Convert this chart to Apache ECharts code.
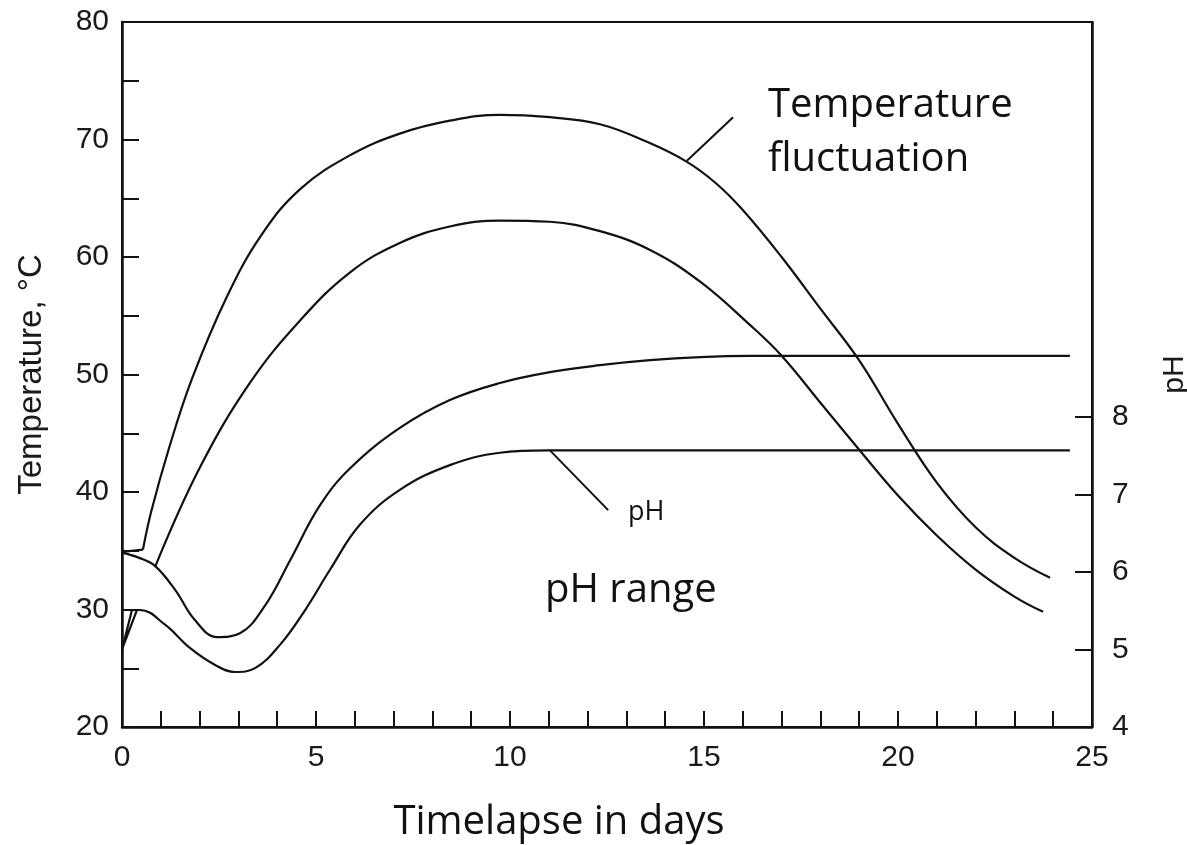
<!DOCTYPE html>
<html>
<head>
<meta charset="utf-8">
<script src="https://cdn.jsdelivr.net/npm/echarts@6/dist/echarts.min.js"></script>
<style>
  html, body { margin: 0; padding: 0; background: #fff; }
  #chart { width: 1187px; height: 845px; }
</style>
</head>
<body>
<div id="chart"></div>
<script>
// days on x, temperature (°C) on left axis, pH on right axis
var tempOuter = [
  [0.54, 35.1], [0.75, 38.3], [1.2, 43.6], [1.8, 49.6], [2.7, 56.6], [3.6, 61.9],
  [4.6, 65.8], [5.9, 68.7], [7.16, 70.5], [8.45, 71.6], [9.74, 72.1], [11.03, 71.9],
  [12.32, 71.3], [13.53, 69.8], [14.56, 68.1], [15.3, 66.3], [16.0, 64.0], [17.0, 60.0],
  [18.0, 55.6], [19.0, 51.2], [20.0, 45.8], [21.0, 40.8], [22.0, 37.0], [23.0, 34.4],
  [23.92, 32.7]
]
var tempInner = [
  [0.85, 33.6], [2.01, 42.1], [3.30, 49.3], [4.59, 54.6], [5.88, 58.7], [7.16, 61.2],
  [8.45, 62.6], [9.74, 63.1], [11.03, 63.0], [12.32, 62.2], [13.61, 60.6], [14.90, 57.9],
  [16.19, 54.2], [17.0, 51.6], [18.0, 47.6], [19.0, 43.6], [20.0, 39.7], [21.0, 36.3],
  [22.0, 33.4], [23.0, 31.1], [23.74, 29.8]
]
var tempJoin = [[0, 34.9], [0.54, 35.1]]
var tempStart = [[0.26, 30.0], [0, 26.6], [0.39, 30.0]]

var phUpper = [
  [0, 6.25], [0.46, 6.18], [0.85, 6.08], [1.37, 5.77], [1.88, 5.38], [2.45, 5.16],
  [3.04, 5.21], [3.69, 5.57], [4.33, 6.15], [5.10, 6.86], [5.88, 7.34], [7.16, 7.86],
  [8.45, 8.22], [9.74, 8.44], [11.03, 8.58], [12.32, 8.67], [13.61, 8.735], [14.90, 8.775],
  [16.19, 8.79], [20, 8.79], [24.43, 8.79]
]
var phLower = [
  [0, 5.51], [0.46, 5.51], [1.11, 5.32], [1.75, 5.02], [2.40, 4.80], [2.91, 4.71],
  [3.43, 4.76], [4.07, 5.06], [4.72, 5.51], [5.36, 6.03], [6.13, 6.61], [7.16, 7.06],
  [8.45, 7.38], [9.74, 7.54], [10.98, 7.57], [16, 7.57], [24.43, 7.57]
]

var tempTicks = [20, 30, 40, 50, 60, 70, 80]
var phTicks = [5, 6, 7, 8]
var phLabels = [4, 5, 6, 7, 8]
var dayLabels = [0, 5, 10, 15, 20, 25]

var ink = '#111'
var labelFont = { color: '#1a1a1a', fontSize: 30, fontFamily: 'Liberation Sans' }

function curve(data, axis, extra) {
  var s = {
    type: 'line',
    data: data,
    yAxisIndex: axis,
    showSymbol: false,
    smooth: 0.4,
    silent: true,
    lineStyle: { color: ink, width: 2.2 }
  }
  for (var k in extra) s[k] = extra[k]
  return s
}

var chart = echarts.init(document.getElementById('chart'))
chart.setOption({
  animation: false,
  backgroundColor: '#fff',
  grid: {
    left: 122, right: 95, top: 22, bottom: 118, outerBoundsMode: 'none',
    show: true, borderColor: ink, borderWidth: 2
  },
  xAxis: {
    type: 'value', min: 0, max: 25, interval: 1,
    name: 'Timelapse in days', nameLocation: 'middle', nameGap: 76,
    nameTextStyle: { fontSize: 40, fontFamily: 'Open Sans', color: '#111', padding: [0, 96, 0, 0] },
    axisLine: { lineStyle: { color: ink, width: 2.5 } },
    axisTick: { inside: true, length: 16, lineStyle: { color: ink, width: 2 } },
    axisLabel: Object.assign({ margin: 16, formatter: function (v) { return dayLabels.indexOf(v) >= 0 ? v : '' } }, labelFont),
    splitLine: { show: false }
  },
  yAxis: [{
    type: 'value', min: 20, max: 80, interval: 5,
    name: 'Temperature, °C', nameLocation: 'middle', nameGap: 74, nameRotate: 90,
    nameTextStyle: { fontSize: 33, fontFamily: 'Liberation Sans', color: '#1a1a1a' },
    axisLine: { show: true, lineStyle: { color: ink, width: 2.5 } },
    axisTick: { inside: true, length: 17, lineStyle: { color: ink, width: 2 } },
    axisLabel: Object.assign({ margin: 13, formatter: function (v) { return tempTicks.indexOf(v) >= 0 ? v : '' } }, labelFont),
    splitLine: { show: false }
  }, {
    type: 'value', min: 4, max: 13.1, interval: 1, position: 'right',
    name: 'pH', nameLocation: 'middle', nameGap: 68, nameRotate: 90,
    nameTextStyle: { fontSize: 30, fontFamily: 'Liberation Sans', color: '#1a1a1a' },
    axisLine: { show: true, lineStyle: { color: ink, width: 2.5 } },
    axisTick: { inside: true, length: 17, customValues: phTicks, lineStyle: { color: ink, width: 2 } },
    axisLabel: Object.assign({ margin: 20, customValues: phLabels }, labelFont),
    splitLine: { show: false }
  }],
  series: [
    curve(tempOuter, 0, {
      markLine: {
        symbol: 'none', silent: true, label: { show: false },
        lineStyle: { color: ink, width: 2, type: 'solid' },
        data: [[{ coord: [14.56, 68.2] }, { coord: [15.75, 71.9] }]]
      }
    }),
    curve(tempInner, 0),
    curve(tempJoin, 0, { smooth: false }),
    curve(tempStart, 0, { smooth: false }),
    curve(phUpper, 1),
    curve(phLower, 1, {
      markLine: {
        symbol: 'none', silent: true, label: { show: false },
        lineStyle: { color: ink, width: 2, type: 'solid' },
        data: [[{ coord: [11.03, 7.57] }, { coord: [12.53, 6.80] }]]
      }
    })
  ],
  graphic: [
    { type: 'text', left: 768, top: 86, style: { text: 'Temperature', font: '40px "Open Sans"', fill: '#111' } },
    { type: 'text', left: 768, top: 140, style: { text: 'fluctuation', font: '40px "Open Sans"', fill: '#111' } },
    { type: 'text', left: 545, top: 571, style: { text: 'pH range', font: '40px "Open Sans"', fill: '#111' } },
    { type: 'text', left: 628, top: 499, style: { text: 'pH', font: '27px "Open Sans"', fill: '#111' } }
  ]
})
</script>
</body>
</html>
